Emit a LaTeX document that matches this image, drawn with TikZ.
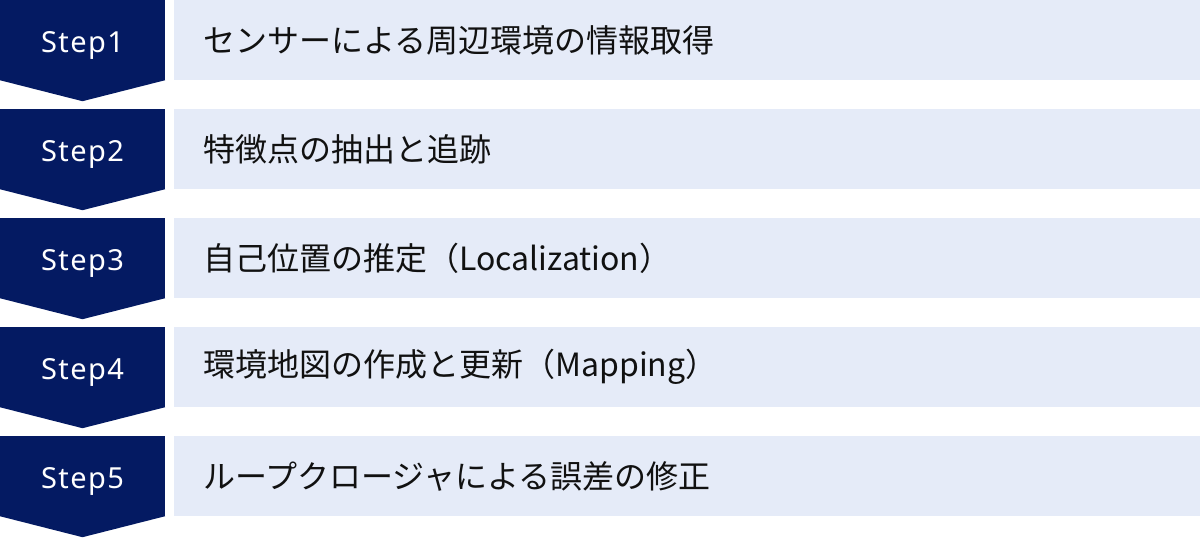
\documentclass[tikz,border=0pt]{standalone}
\usepackage{fontspec}
\setmainfont{Noto Sans}
\newfontfamily\pasofont[LetterSpace=5]{Noto Sans}
\newfontfamily\jpfont{Noto Sans CJK JP}
\usetikzlibrary{positioning,calc}
\definecolor{azulosc}{HTML}{041A62}
\definecolor{celeste}{HTML}{E5EBF8}
\definecolor{tinta}{HTML}{111111}
\tikzset{
  paso/.style={fill=azulosc,text=white,minimum width=165pt,minimum height=80pt,inner sep=0pt,
    text height=24.7pt,text depth=0pt,font=\pasofont\fontsize{29}{34}\selectfont},
  caja/.style={fill=celeste,text=tinta,minimum height=80pt,inner xsep=29pt,inner ysep=0pt,
    text width=968pt,align=left,font=\jpfont\fontsize{32}{38}\selectfont},
  punta/.style={fill=azulosc}
}

\begin{document}
\begin{tikzpicture}[x=1pt,y=1pt]
	\useasboundingbox (0,0) rectangle (1200,-538);
	\foreach \Num/\Texto in {1/センサーによる周辺環境の情報取得,2/特徴点の抽出と追跡,3/自己位置の推定（Localization）,4/環境地図の作成と更新（Mapping）,5/ループクロージャによる誤差の修正} {
		\node[paso] (paso\Num) at (82.5,{-40-109*(\Num-1)}) {Step\Num};
		\node[caja,right=9pt of paso\Num] (caja\Num) {\Texto};
		\fill[punta] (paso\Num.south west) -- (paso\Num.south east) -- ([yshift=-21pt]paso\Num.south) -- cycle;
	}
\end{tikzpicture}
\end{document}
